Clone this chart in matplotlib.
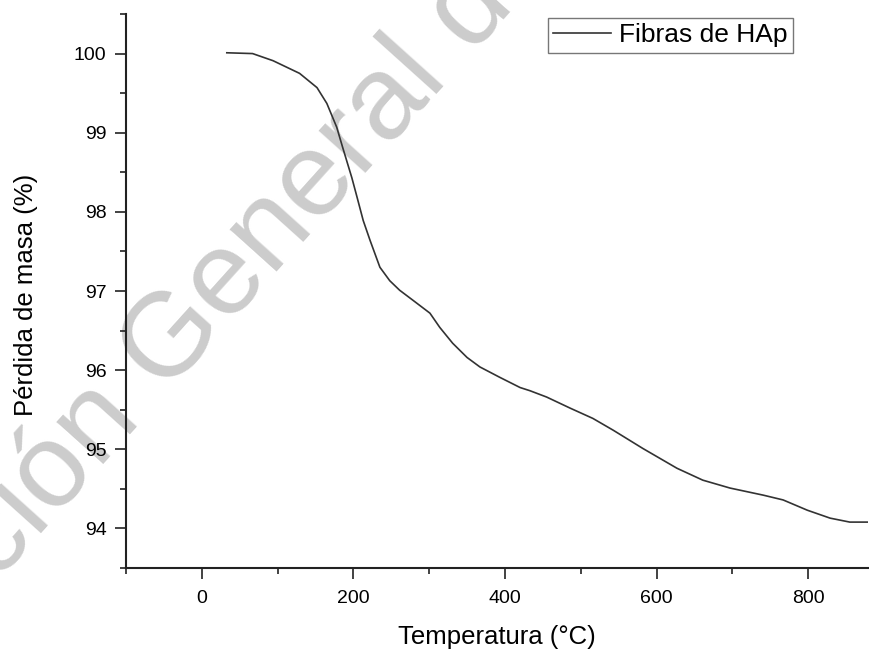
import matplotlib
matplotlib.use("Agg")
import matplotlib.pyplot as plt
from matplotlib.ticker import MultipleLocator

plt.rcParams['font.family'] = ['Liberation Sans', 'DejaVu Sans']

# Data
temperatura = [33, 67, 94, 129, 152, 165, 178, 186, 198, 205, 213, 222, 235, 248,
               261, 279, 301, 314, 331, 350, 367, 393, 420, 433, 455, 486, 516,
               543, 582, 627, 661, 697, 741, 767, 799, 829, 855, 878]
perdida = [100.01, 100.0, 99.91, 99.75, 99.57, 99.37, 99.07, 98.81, 98.43, 98.18,
           97.89, 97.64, 97.30, 97.13, 97.01, 96.88, 96.72, 96.54, 96.34, 96.16,
           96.04, 95.91, 95.78, 95.74, 95.66, 95.52, 95.39, 95.24, 95.01, 94.76,
           94.61, 94.51, 94.42, 94.36, 94.23, 94.13, 94.08, 94.08]
x_ticks = [0, 200, 400, 600, 800]
y_ticks = [94, 95, 96, 97, 98, 99, 100]
serie = "Fibras de HAp"

W, H = 870, 650
fig = plt.figure(figsize=(W / 100, H / 100), dpi=100)
ax = fig.add_axes([126 / W, 1 - 568 / H, (868 - 126) / W, (568 - 14) / H])
ax.set_zorder(1)
ax.set_facecolor("none")

# watermark (behind the axes)
fig.text(256 / W, 1 - 250 / H, "ción General de", fontsize=86, color="#cccccc",
         rotation=48, ha="center", va="center", zorder=-1)

ax.plot(temperatura, perdida, color="#333333", lw=1.2, label=serie)

ax.set_xlim(-100, 879)
ax.set_ylim(93.5, 100.5)
ax.set_xticks(x_ticks)
ax.set_yticks(y_ticks)
ax.xaxis.set_minor_locator(MultipleLocator(100))
ax.yaxis.set_minor_locator(MultipleLocator(0.5))
ax.tick_params(axis="both", which="major", direction="out", length=8, width=1.2,
               labelsize=14, color="#222222")
ax.tick_params(axis="both", which="minor", direction="out", length=4.5, width=1.2,
               color="#222222")
ax.tick_params(axis="x", pad=8)
ax.tick_params(axis="y", pad=6)

for s in ["top", "right"]:
    ax.spines[s].set_visible(False)
for s in ["left", "bottom"]:
    ax.spines[s].set_linewidth(1.5)
    ax.spines[s].set_color("#222222")

ax.set_xlabel("Temperatura (°C)", fontsize=18.5, labelpad=13)
ax.set_ylabel("Pérdida de masa (%)", fontsize=18.5)
ax.yaxis.set_label_coords((38 - 126) / 742, (568 - 295) / 554)

leg = ax.legend(loc="upper right", bbox_to_anchor=(793 / W, 1 - 18 / H),
                bbox_transform=fig.transFigure, borderaxespad=0, fontsize=19,
                fancybox=False, frameon=True, handlelength=2.2, handletextpad=0.3,
                borderpad=0.2, edgecolor="#555555")
leg.get_frame().set_linewidth(1.0)

fig.savefig("out.png", dpi=100)
